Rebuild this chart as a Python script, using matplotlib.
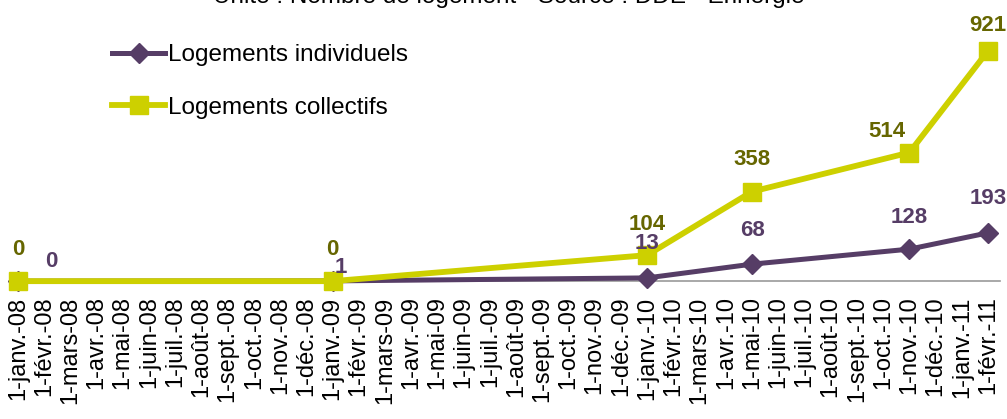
import matplotlib.pyplot as plt

plt.rcParams['font.family'] = ['Liberation Sans', 'DejaVu Sans']

# monthly categories from janv. 2008 to févr. 2011
mois = ['janv.', 'févr.', 'mars', 'avr.', 'mai', 'juin', 'juil.', 'août',
        'sept.', 'oct.', 'nov.', 'déc.']
annees = ['08', '09', '10', '11']
tick_labels = ['1-%s-%s' % (m, a) for a in annees for m in mois][:38]

# data points (index into the monthly axis)
point_idx = [0, 12, 24, 28, 34, 37]
individuels = [0, 1, 13, 68, 128, 193]
collectifs = [0, 0, 104, 358, 514, 921]

col_indiv = '#563D66'
col_coll = '#CDD000'
col_coll_txt = '#666600'

fig = plt.figure(figsize=(10.07, 4.19), dpi=100)
ax = fig.add_axes([0.0099, 0.329, 0.983, 0.597])

ax.plot(point_idx, individuels, color=col_indiv, lw=3.6, marker='D', ms=10,
        label='Logements individuels', clip_on=False, zorder=3)
ax.plot(point_idx, collectifs, color=col_coll, lw=4.2, marker='s', ms=12.5,
        label='Logements collectifs', clip_on=False, zorder=4)

# data labels, offsets in points
off_indiv = [(24, 14), (6, 10), (0, 25), (0, 24), (0, 23), (0, 25)]
off_coll = [(0, 23), (0, 23), (0, 22), (0, 23), (-16, 15), (0, 18)]
for x, v, o in zip(point_idx, individuels, off_indiv):
    ax.annotate(str(v), (x, v), xytext=o, textcoords='offset points',
                ha='center', va='center', fontsize=16, fontweight='bold',
                color=col_indiv, zorder=6)
for x, v, o in zip(point_idx, collectifs, off_coll):
    ax.annotate(str(v), (x, v), xytext=o, textcoords='offset points',
                ha='center', va='center', fontsize=16, fontweight='bold',
                color=col_coll_txt, zorder=6)

ax.set_xlim(-0.3, 37.45)
ax.set_ylim(0, 1000)
ax.set_xticks(range(len(tick_labels)))
ax.set_xticklabels(tick_labels, rotation=90, fontsize=17, va='top')
ax.tick_params(axis='x', length=0, pad=11)
ax.set_yticks([])
for s in ['top', 'right', 'left']:
    ax.spines[s].set_visible(False)
ax.spines['bottom'].set_color('#999999')
ax.spines['bottom'].set_linewidth(1.2)

ax.legend(loc='upper left', bbox_to_anchor=(0.081, 1.035), frameon=False,
          fontsize=17.5, handlelength=2.2, handletextpad=0.1,
          labelspacing=1.25)

fig.text(0.505, 1 - 3 / 419, 'Unité : Nombre de logement - Source : DDE - Erinergie',
         ha='center', va='baseline', fontsize=17.5)

fig.savefig('out.png', dpi=100)
